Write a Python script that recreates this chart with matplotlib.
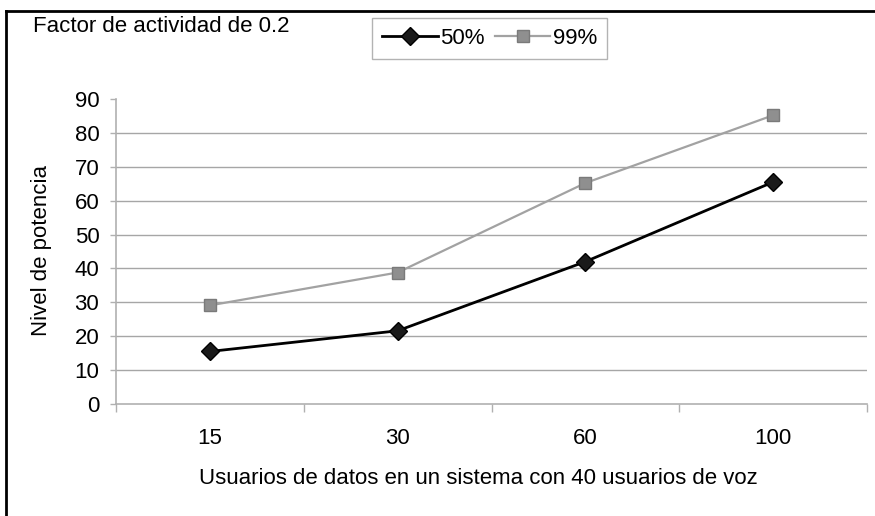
import matplotlib
matplotlib.use('Agg')
import matplotlib.pyplot as plt
from matplotlib.lines import Line2D

plt.rcParams['font.family'] = ['Liberation Sans', 'DejaVu Sans']

# data
categorias = ['15', '30', '60', '100']
serie_50 = [15.5, 21.6, 42.0, 65.5]
serie_99 = [29.1, 38.8, 65.2, 85.2]
y_ticks = [0, 10, 20, 30, 40, 50, 60, 70, 80, 90]

W, H = 875, 516
FS = 16
fig = plt.figure(figsize=(W / 100, H / 100), dpi=100)
ax = fig.add_axes([116 / W, 1 - 404 / H, (867 - 116) / W, (404 - 99) / H])

grid_col = '#a6a6a6'
axis_col = '#b0b0b0'

x = list(range(len(categorias)))
ax.plot(x, serie_50, color='black', linewidth=2, marker='D', markersize=9,
        markerfacecolor='#1a1a1a', markeredgecolor='black', label='50%', zorder=4)
ax.plot(x, serie_99, color='#a2a2a2', linewidth=1.6, marker='s', markersize=8,
        markerfacecolor='#8f8f8f', markeredgecolor='#7a7a7a', label='99%', zorder=3)

ax.set_xlim(-0.5, len(categorias) - 0.5)
ax.set_ylim(0, 90)

# horizontal gridlines (none at the top edge)
for v in y_ticks[1:-1]:
    ax.axhline(v, color=grid_col, linewidth=1, zorder=1)

ax.set_yticks(y_ticks)
ax.tick_params(axis='y', length=4, width=1, color=axis_col, pad=8, labelsize=FS)

# category boundaries as major ticks, labels on minor ticks
ax.set_xticks([i - 0.5 for i in range(len(categorias) + 1)])
ax.set_xticklabels([])
ax.set_xticks(x, minor=True)
ax.set_xticklabels(categorias, minor=True)
ax.tick_params(axis='x', which='major', length=6, width=1, color=axis_col)
ax.tick_params(axis='x', which='minor', length=0, pad=17, labelsize=FS)

for s in ['top', 'right']:
    ax.spines[s].set_visible(False)
for s in ['left', 'bottom']:
    ax.spines[s].set_color(axis_col)
    ax.spines[s].set_linewidth(1.2)

fig.text(42 / W, 1 - 250 / H, 'Nivel de potencia', rotation=90,
         ha='center', va='center', fontsize=FS)
fig.text(478 / W, 1 - 478 / H, 'Usuarios de datos en un sistema con 40 usuarios de voz',
         ha='center', va='center', fontsize=FS)
fig.text(33 / W, 1 - 27 / H, 'Factor de actividad de 0.2',
         ha='left', va='center', fontsize=FS)

leg = ax.legend(loc='upper left', bbox_to_anchor=(372 / W, 1 - 18 / H),
                bbox_transform=fig.transFigure, ncol=2, fontsize=FS,
                frameon=True, fancybox=False, borderaxespad=0,
                handlelength=2.5, handletextpad=0.12, columnspacing=0.45,
                borderpad=0.45)
leg.get_frame().set_edgecolor('#a0a0a0')
leg.get_frame().set_linewidth(1)

# outer chart frame (only top and left edges are inside the picture)
fig.add_artist(Line2D([6 / W, 1], [1 - 11 / H, 1 - 11 / H], color='black',
                      linewidth=2, transform=fig.transFigure))
fig.add_artist(Line2D([6 / W, 6 / W], [0, 1 - 11 / H], color='black',
                      linewidth=2, transform=fig.transFigure))

fig.savefig('out.png', dpi=100)
